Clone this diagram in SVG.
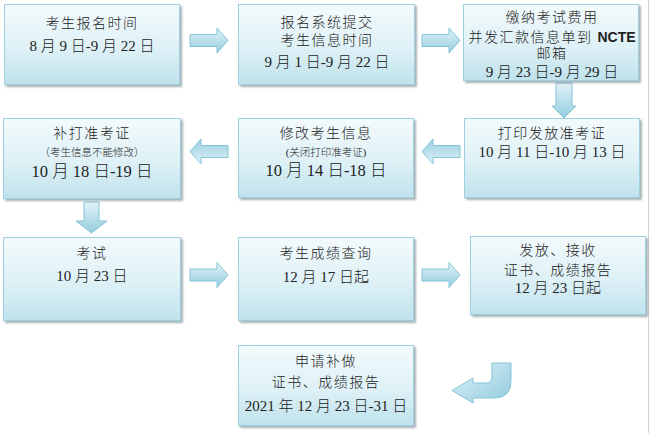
<svg xmlns="http://www.w3.org/2000/svg" width="650" height="433" viewBox="0 0 650 433">
<defs>
<linearGradient id="boxg" x1="0" y1="0" x2="0" y2="1">
<stop offset="0" stop-color="#f3fafc"/>
<stop offset="0.55" stop-color="#def1f6"/>
<stop offset="1" stop-color="#bfe2ec"/>
</linearGradient>
<linearGradient id="arrg" x1="0" y1="0" x2="0" y2="1">
<stop offset="0" stop-color="#e2f3f8"/>
<stop offset="1" stop-color="#94cddf"/>
</linearGradient>
<linearGradient id="curg" x1="0" y1="0" x2="1" y2="1">
<stop offset="0" stop-color="#e0f2f8"/>
<stop offset="1" stop-color="#8fcade"/>
</linearGradient>
<filter id="sh" x="-5%" y="-5%" width="115%" height="120%">
<feDropShadow dx="2" dy="2" stdDeviation="1" flood-color="#6a7f86" flood-opacity="0.6"/>
</filter>
<path id="ra" d="M0,-6 H27 V-12.5 L38,0 L27,12.5 V6 H0 Z"/>
</defs>
<style>
.box{fill:url(#boxg);stroke:#9fd0df;stroke-width:1;filter:url(#sh)}
.arr{fill:url(#arrg);stroke:#86c3d6;stroke-width:1}
text{font-family:"Liberation Serif","Noto Sans CJK SC",serif;fill:#222;text-anchor:middle;font-weight:300}
.t{font-size:14px;letter-spacing:1.5px}
.d{font-size:15px}
.s{font-size:10.5px}
.b{font-size:16.5px}
.n{font-family:"Liberation Sans",sans-serif;font-weight:bold;letter-spacing:0}
</style>
<line x1="648.5" y1="0" x2="648.5" y2="433" stroke="#d4d4d4" stroke-width="1"/>
<g id="connectors">
<use href="#ra" class="arr" transform="translate(190,40.5)"/>
<use href="#ra" class="arr" transform="translate(422,40.5)"/>
<path class="arr" d="M556,83 H572 V106 H576 L564,118 L552,106 H556 Z"/>
<use href="#ra" class="arr" transform="translate(460,151.5) rotate(180)"/>
<use href="#ra" class="arr" transform="translate(228,151.5) rotate(180)"/>
<path class="arr" d="M84,202 H99 V221 H107 L91.5,233 L76,221 H84 Z"/>
<use href="#ra" class="arr" transform="translate(190,275)"/>
<use href="#ra" class="arr" transform="translate(422,275)"/>
<path d="M492,363 H511 V381 Q511,398 494,398 H473 V403 L452,390.5 L473,378 V383 H486 Q492,383 492,376 Z" fill="url(#curg)" stroke="#86c3d6" stroke-width="1"/>
</g>
<g id="n1">
<rect class="box" x="4.5" y="4.5" width="175" height="80"/>
<text class="t" x="92" y="28">考生报名时间</text>
<text class="d" x="92" y="51">8 月 9 日-9 月 22 日</text>
</g>
<g id="n2">
<rect class="box" x="238.5" y="4.5" width="176" height="80"/>
<text class="t" x="327" y="27">报名系统提交</text>
<text class="t" x="327" y="45">考生信息时间</text>
<text class="d" x="327" y="67">9 月 1 日-9 月 22 日</text>
</g>
<g id="n3">
<rect class="box" x="463.5" y="4.5" width="175" height="76"/>
<text class="t" x="552" y="22">缴纳考试费用</text>
<text class="t" x="552" y="42">并发汇款信息单到 <tspan class="n">NCTE</tspan></text>
<text class="t" x="552" y="58">邮箱</text>
<text class="d" x="552" y="77">9 月 23 日-9 月 29 日</text>
</g>
<g id="n4">
<rect class="box" x="464.5" y="118.5" width="175" height="79"/>
<text class="t" x="552" y="138">打印发放准考证</text>
<text class="d" x="552" y="157">10 月 11 日-10 月 13 日</text>
</g>
<g id="n5">
<rect class="box" x="238.5" y="118.5" width="175" height="79"/>
<text class="t" x="326" y="138">修改考生信息</text>
<text class="s" x="326" y="156">(关闭打印准考证)</text>
<text class="b" x="326" y="176">10 月 14 日-18 日</text>
</g>
<g id="n6">
<rect class="box" x="3.5" y="118.5" width="177" height="80"/>
<text class="t" x="92" y="138">补打准考证</text>
<text class="s" x="92" y="156">（考生信息不能修改）</text>
<text class="b" x="92" y="177">10 月 18 日-19 日</text>
</g>
<g id="n7">
<rect class="box" x="3.5" y="237.5" width="177" height="83"/>
<text class="t" x="92" y="258">考试</text>
<text class="d" x="92" y="281">10 月 23 日</text>
</g>
<g id="n8">
<rect class="box" x="238.5" y="237.5" width="175" height="83"/>
<text class="t" x="326" y="258">考生成绩查询</text>
<text class="d" x="326" y="282">12 月 17 日起</text>
</g>
<g id="n9">
<rect class="box" x="470.5" y="236.5" width="175" height="78"/>
<text class="t" x="558" y="255">发放、接收</text>
<text class="t" x="558" y="275">证书、成绩报告</text>
<text class="d" x="558" y="293">12 月 23 日起</text>
</g>
<g id="n10">
<rect class="box" x="238.5" y="345.5" width="175" height="80"/>
<text class="t" x="326" y="366">申请补做</text>
<text class="t" x="326" y="387">证书、成绩报告</text>
<text class="d" x="326" y="411">2021 年 12 月 23 日-31 日</text>
</g>
</svg>
